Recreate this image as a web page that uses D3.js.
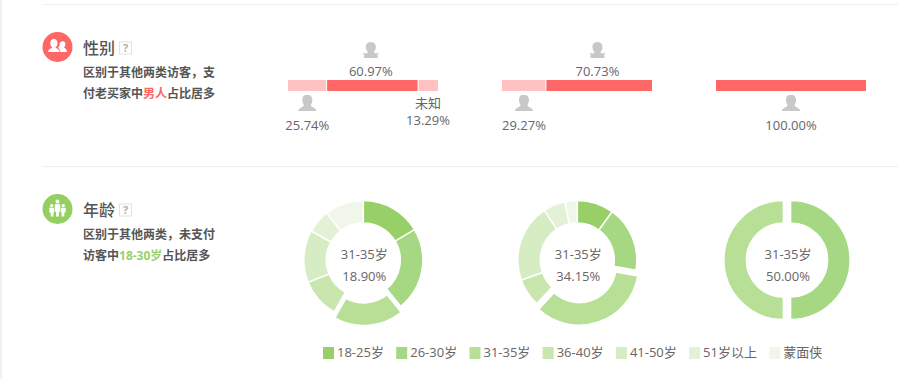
<!DOCTYPE html>
<html>
<head>
<meta charset="utf-8">
<script src="https://cdn.jsdelivr.net/npm/d3@7/dist/d3.min.js"></script>
<style>
html, body { margin: 0; padding: 0; background: #fff; overflow: hidden; }
text { font-family: "Open Sans", "Noto Sans CJK SC", sans-serif; fill: #666; }
</style>
</head>
<body>
<svg id="chart" width="922" height="379"></svg>
<script>
// gender section
var genderShares = [[25.74, 60.97, 13.29], [29.27, 70.73], [100]];
var genderKinds = [["male", "female", "unknown"], ["male", "female"], ["male"]];
var genderOrigins = [288, 502, 716];

// age section
var ageGroups = ["18-25岁", "26-30岁", "31-35岁", "36-40岁", "41-50岁", "51岁以上", "蒙面侠"];
var ageColors = ["#98d068", "#a6d783", "#b7df96", "#c8e6ae", "#d6edc3", "#e3f2d7", "#f0f7ea"];
var ageShares = [
    [16.5, 22.7, 18.9, 10.8, 14.2, 6.4, 10.5],
    [9.95, 17.8, 34.15, 7.65, 21.1, 5.95, 3.4],
    [0, 50, 50, 0, 0, 0, 0]
];
var ageCenterValues = ["18.90%", "34.15%", "50.00%"];
var ageCenterGroup = "31-35岁";
var ageOffsetSlices = [[2], [2], [1, 2]];
var ageSliceShifts = [6, 6, 3.6];
var ageCentersX = [363.3, 577.3, 787];

var red = "#ff6666", pink = "#ffc1c1", green = "#94d060", grey = "#c8c8c8";

var svg = d3.select("#chart");

// page furniture
svg.append("rect").attr("width", 2).attr("height", 379).attr("fill", "#eef2f7");
[4.5, 166.5].forEach(function(y) {
    svg.append("line").attr("x1", 43).attr("x2", 898).attr("y1", y).attr("y2", y)
        .attr("stroke", "#eeeeee");
});

function sectionHead(y, color, title, line1, line2, iconPath, iconScale) {
    svg.append("circle").attr("cx", 57.5).attr("cy", y).attr("r", 15).attr("fill", color);
    svg.append("path").attr("d", iconPath).attr("fill", "#fff")
        .attr("transform", "translate(57.5," + y + ") scale(" + iconScale + ")");
    svg.append("text").attr("x", 83).attr("y", y + 1).attr("dy", "0.36em")
        .style("font-size", "16px").style("fill", "#555").style("font-weight", 500).text(title);
    svg.append("rect").attr("x", 119.5).attr("y", y - 5).attr("width", 12).attr("height", 12)
        .attr("fill", "#fff").attr("stroke", "#e2e2e2");
    svg.append("text").attr("x", 125.5).attr("y", y + 5).attr("text-anchor", "middle")
        .style("font-size", "11px").style("fill", "#b0b0b0").style("font-weight", 700).text("?");
    [line1, line2].forEach(function(parts, i) {
        var t = svg.append("text").attr("x", 83).attr("y", y + 26 + i * 21).attr("dy", "0.36em")
            .style("font-size", "12px").style("font-weight", 700);
        parts.forEach(function(p) {
            t.append("tspan").style("fill", p[1] || "#555").text(p[0]);
        });
    });
}

var usersIcon = "M-13,7 C-13,3 -9,2 -7,1 C-9,-1 -10,-3 -10,-5 C-10,-9 -8,-11 -5,-11 C-2,-11 0,-9 0,-5 C0,-3 -1,-1 -3,1 C-1,2 3,3 3,7 Z"
    + "M4,7 C4,4 2,2 1,1 C3,-1 3,-3 3,-4 C3,-7 5,-8 7,-8 C10,-8 11,-6 11,-4 C11,-2 10,0 9,1 C11,2 13,3 13,7 Z";
var familyIcon = "M-3,-11 a3,3 0 1,1 6,0 a3,3 0 1,1 -6,0 Z M-4,-7 H4 V4 H2 V11 H-2 V4 H-4 Z"
    + "M-11,-5 a2.5,2.5 0 1,1 5,0 a2.5,2.5 0 1,1 -5,0 Z M-12,-2 H-5 V5 H-6 V11 H-10 V5 H-12 Z"
    + "M6,-5 a2.5,2.5 0 1,1 5,0 a2.5,2.5 0 1,1 -5,0 Z M5,-2 H12 V5 H10 V11 H6 V5 H5 Z";

sectionHead(47, red, "性别", [["区别于其他两类访客，支"]],
    [["付老买家中"], ["男人", red], ["占比居多"]], usersIcon, 0.72);
sectionHead(209, green, "年龄", [["区别于其他两类，未支付"]],
    [["访客中"], ["18-30岁", "#9ad16b"], ["占比居多"]], familyIcon, 0.68);

// gender bars
var maleIcon = "M-1.5,-8 C-4,-8 -5,-6 -5,-3 C-5,-1 -4.5,0 -3.5,2 C-3.5,3 -4,3.5 -6,4.5 C-8,5.5 -9,6 -9,8 H9 C9,6 8,5.5 6,4.5 C4,3.5 3.5,3 3.5,2 C4.5,0 5,-1 5,-3 C5,-6 3.5,-8 1,-8 Z";
var femaleIcon = "M0,-8 C-4,-8 -5,-5 -5,-3 C-5,-1 -4,1 -3,2 C-3,3 -5,4 -7,3 C-8,3 -8,5 -6,5 C-8,6 -7,8 -6,8 H6 C7,8 8,6 6,5 C8,5 8,3 7,3 C5,4 3,3 3,2 C4,1 5,-1 5,-3 C5,-5 4,-8 0,-8 Z";

var barX = d3.scaleLinear().domain([0, 100]).range([0, 150]);
var barTop = 80, barHeight = 11;

genderShares.forEach(function(shares, g) {
    var cum = 0;
    var maxShare = d3.max(shares);
    shares.forEach(function(v, i) {
        var x0 = genderOrigins[g] + barX(cum);
        var w = barX(v);
        cum += v;
        svg.append("rect").attr("x", x0).attr("y", barTop).attr("width", w).attr("height", barHeight)
            .attr("fill", v === maxShare ? red : pink);
        if (i > 0) {
            svg.append("line").attr("x1", x0).attr("x2", x0).attr("y1", barTop).attr("y2", barTop + barHeight)
                .attr("stroke", "#fff");
        }
        var cx = x0 + w / 2;
        var kind = genderKinds[g][i];
        var label = d3.format(".2f")(v) + "%";
        if (kind === "female") {
            cx -= 1.5;
            svg.append("path").attr("d", femaleIcon).attr("fill", grey)
                .attr("transform", "translate(" + cx + ",50)");
            svg.append("text").attr("x", cx).attr("y", 71.5).attr("dy", "0.36em")
                .attr("text-anchor", "middle").style("font-size", "13px").text(label);
        } else if (kind === "male") {
            svg.append("path").attr("d", maleIcon).attr("fill", grey)
                .attr("transform", "translate(" + cx + ",103)");
            svg.append("text").attr("x", cx).attr("y", 125).attr("dy", "0.36em")
                .attr("text-anchor", "middle").style("font-size", "13px").text(label);
        } else {
            svg.append("text").attr("x", cx).attr("y", 103).attr("dy", "0.36em")
                .attr("text-anchor", "middle").style("font-size", "13px").text("未知");
            svg.append("text").attr("x", cx).attr("y", 120.5).attr("dy", "0.36em")
                .attr("text-anchor", "middle").style("font-size", "13px").text(label);
        }
    });
});

// age donuts
var pie = d3.pie().sort(null).value(function(d) { return d; });
var arc = d3.arc().innerRadius(37).outerRadius(59.5);
var donutY = 260;

ageShares.forEach(function(shares, k) {
    var g = svg.append("g").attr("transform", "translate(" + ageCentersX[k] + "," + donutY + ")");
    g.selectAll("path")
        .data(pie(shares).filter(function(d) { return d.value > 0; }))
        .enter()
        .append("path")
        .attr("d", arc)
        .attr("fill", function(d) { return ageColors[d.index]; })
        .attr("stroke", "#fff")
        .attr("stroke-width", 1.5)
        .attr("transform", function(d) {
            if (ageOffsetSlices[k].indexOf(d.index) < 0) return null;
            var mid = (d.startAngle + d.endAngle) / 2;
            var shift = ageSliceShifts[k];
            return "translate(" + (Math.sin(mid) * shift) + "," + (-Math.cos(mid) * shift) + ")";
        });
    g.append("text").attr("x", 1).attr("y", -6).attr("dy", "0.36em").attr("text-anchor", "middle")
        .style("font-size", "13px").text(ageCenterGroup);
    g.append("text").attr("x", 1).attr("y", 16.5).attr("dy", "0.36em").attr("text-anchor", "middle")
        .style("font-size", "13px").text(ageCenterValues[k]);
});

// legend, items laid out from the measured width of each label
var legendX = 323;
ageGroups.forEach(function(name, i) {
    var item = svg.append("g").attr("transform", "translate(" + legendX + ",347)");
    item.append("rect").attr("width", 11).attr("height", 12).attr("fill", ageColors[i]);
    var t = item.append("text").attr("x", 14).attr("y", 5).attr("dy", "0.36em")
        .style("font-size", "13px").text(name);
    legendX += 14 + t.node().getComputedTextLength() + 12.3;
});
</script>
</body>
</html>
